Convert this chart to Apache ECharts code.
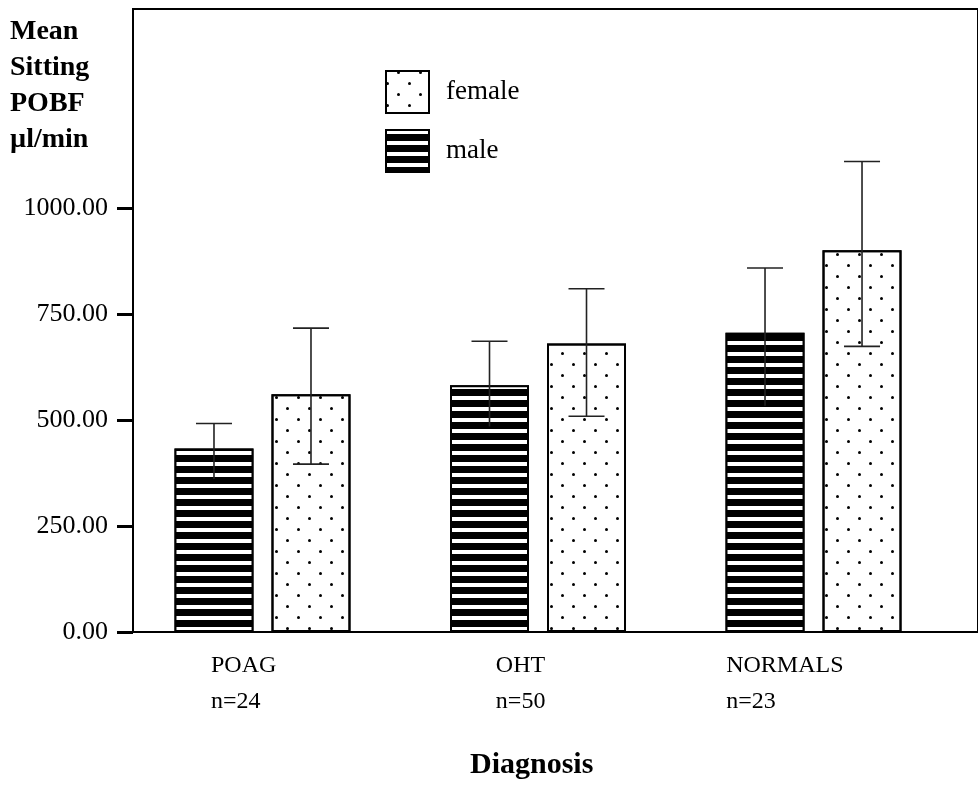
<!DOCTYPE html>
<html>
<head>
<meta charset="utf-8">
<script src="https://cdn.jsdelivr.net/npm/echarts@6/dist/echarts.min.js"></script>
<style>html,body{margin:0;padding:0;background:#fff;}#c{width:978px;height:788px;}</style>
</head>
<body>
<div id="c"></div>
<script>
// ---- data ----
const categories = ['POAG', 'OHT', 'NORMALS'];
const nCounts = [24, 50, 23];
const maleMean = [433, 582, 706];
const femaleMean = [561, 681, 901];
const maleLow = [361, 485, 534];
const maleHigh = [492, 686, 859];
const femaleLow = [396, 509, 674];
const femaleHigh = [717, 810, 1110];
const yTickValues = [0, 250, 500, 750, 1000];

// ---- style ----
const F = 'Liberation Serif';
const BAR_W = 79;
const BAR_GAP_PX = 18;
const labelShift = [-0.187, -0.153, -0.317];
const CAP = 18;

const chart = echarts.init(document.getElementById('c'));
const labelPos = categories.map((_, i) => i + labelShift[i]);

function errSeries(name, low, high, dir, lowerCap) {
  return {
    type: 'custom', name: name, z: 10,
    data: categories.map((_, i) => [i, low[i], high[i]]),
    encode: { x: 0, y: [1, 2] },
    renderItem: function (params, api) {
      const x = api.value(0);
      const a = api.coord([x, api.value(1)]);
      const b = api.coord([x, api.value(2)]);
      const cx = a[0] + dir * (BAR_W + BAR_GAP_PX) / 2;
      const st = { stroke: '#222', lineWidth: 1.6 };
      const ch = [
        { type: 'line', shape: { x1: cx, y1: a[1], x2: cx, y2: b[1] }, style: st },
        { type: 'line', shape: { x1: cx - CAP, y1: b[1], x2: cx + CAP, y2: b[1] }, style: st }
      ];
      if (lowerCap) ch.push({ type: 'line', shape: { x1: cx - CAP, y1: a[1], x2: cx + CAP, y2: a[1] }, style: st });
      return { type: 'group', children: ch };
    }
  };
}

const option = {
  backgroundColor: '#fff',
  animation: false,
  title: [
    { text: 'Mean\nSitting\nPOBF\nµl/min', left: 10, top: 14, padding: 0,
      textStyle: { fontFamily: F, fontWeight: 'bold', fontSize: 28, lineHeight: 36, color: '#000' } },
    { text: 'Diagnosis', left: 470, top: 750, padding: 0,
      textStyle: { fontFamily: F, fontWeight: 'bold', fontSize: 30, color: '#000' } }
  ],
  legend: {
    data: [{ name: 'female', icon: 'rect' }, { name: 'male', icon: 'rect' }],
    orient: 'vertical', left: 385, top: 70, padding: 0,
    itemWidth: 43, itemHeight: 42, itemGap: 15,
    textStyle: { fontFamily: F, fontSize: 27, color: '#000', padding: [0, 0, 0, 12] }
  },
  grid: { left: 133, right: -10, top: 9, bottom: 156, show: true, borderColor: '#000', borderWidth: 2 },
  xAxis: {
    type: 'value', min: -0.47, max: 2.597,
    axisLine: { show: true, onZero: false, lineStyle: { color: '#000', width: 2 } },
    axisTick: { show: false }, splitLine: { show: false },
    axisLabel: {
      customValues: labelPos, align: 'left', margin: 16,
      fontFamily: F, fontSize: 24, lineHeight: 36, color: '#000',
      formatter: function (v) {
        const i = labelPos.findIndex(p => Math.abs(p - v) < 1e-6);
        return i < 0 ? '' : categories[i] + '\nn=' + nCounts[i];
      }
    }
  },
  yAxis: {
    type: 'value', min: 0, max: 1470,
    axisLine: { show: true, onZero: false, lineStyle: { color: '#000', width: 2 } },
    axisTick: { show: true, customValues: yTickValues, length: 16, lineStyle: { color: '#000', width: 3 } },
    splitLine: { show: false },
    axisLabel: { customValues: yTickValues, margin: 25, fontFamily: F, fontSize: 26, color: '#000',
      formatter: v => v.toFixed(2) }
  },
  series: [
    { type: 'bar', name: 'male', barWidth: BAR_W, barGap: (BAR_GAP_PX / BAR_W * 100) + '%',
      data: categories.map((_, i) => [i, maleMean[i]]),
      itemStyle: { color: '#000', borderColor: '#000', borderWidth: 2,
        decal: { symbol: 'rect', symbolSize: 1, color: '#fff', dashArrayX: [10, 0], dashArrayY: [4, 7] } } },
    { type: 'bar', name: 'female', barWidth: BAR_W,
      data: categories.map((_, i) => [i, femaleMean[i]]),
      itemStyle: { color: '#fff', borderColor: '#000', borderWidth: 2,
        decal: { symbol: 'circle', symbolSize: 1, color: '#000', dashArrayX: [[3, 19], [0, 11, 3, 8]], dashArrayY: [3, 8] } } },
    errSeries('male err', maleLow, maleHigh, -1, false),
    errSeries('female err', femaleLow, femaleHigh, 1, true)
  ]
};
chart.setOption(option);
</script>
</body>
</html>
